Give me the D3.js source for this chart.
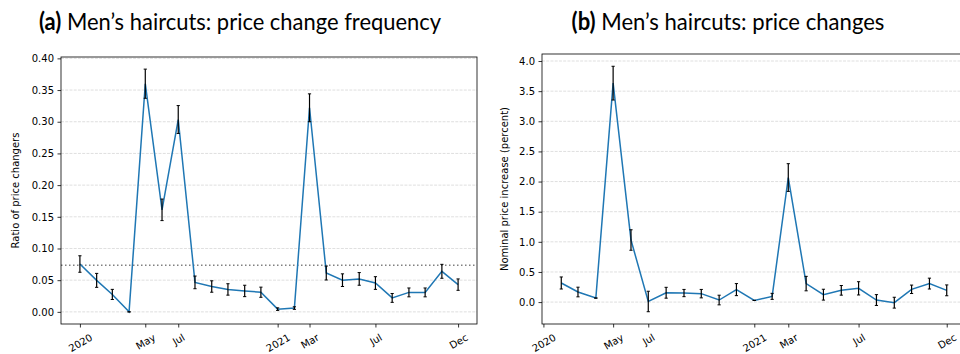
<!DOCTYPE html>
<html>
<head>
  <meta charset="utf-8">
  <title>Men's haircuts</title>
  <script src="https://d3js.org/d3.v7.min.js"></script>
  <style>
    body { margin: 0; background: #fff; }
    text { font-family: "DejaVu Sans", sans-serif; fill: #000; }
    .title { font-family: Lato, "Open Sans", sans-serif; font-size: 24px; }
  </style>
</head>
<body>
<svg class="chart" width="960" height="354"></svg>

<script>
// monthly data, first of each month
var freqMonths = ["2020-01","2020-02","2020-03","2020-04","2020-05","2020-06","2020-07","2020-08","2020-09","2020-10","2020-11","2020-12",
                  "2021-01","2021-02","2021-03","2021-04","2021-05","2021-06","2021-07","2021-08","2021-09","2021-10","2021-11","2021-12"];
var freqValues = [0.0755,0.0497,0.0275,0.0,0.360,0.161,0.3035,0.0465,0.040,0.0354,0.033,0.031,
                  0.0043,0.006,0.322,0.0613,0.050,0.052,0.0455,0.022,0.0307,0.0307,0.064,0.043];
var freqErrors = [0.013,0.011,0.008,0.0,0.023,0.017,0.022,0.010,0.009,0.009,0.009,0.008,
                  0.002,0.002,0.022,0.011,0.010,0.010,0.010,0.007,0.007,0.007,0.011,0.009];
var freqMean = 0.0735;

var changeMonths = ["2020-02","2020-03","2020-04","2020-05","2020-06","2020-07","2020-08","2020-09","2020-10","2020-11","2020-12",
                    "2021-01","2021-02","2021-03","2021-04","2021-05","2021-06","2021-07","2021-08","2021-09","2021-10","2021-11","2021-12"];
var changeValues = [0.317,0.167,0.067,3.633,1.03,0.01,0.155,0.15,0.14,0.034,0.207,
                    0.028,0.095,2.067,0.307,0.123,0.195,0.228,0.034,-0.01,0.212,0.307,0.195];
var changeErrors = [0.10,0.08,0.0,0.28,0.17,0.17,0.09,0.06,0.07,0.08,0.10,
                    0.0,0.05,0.23,0.12,0.09,0.08,0.11,0.09,0.09,0.07,0.09,0.09];

var tickDates = ["2020-01","2020-05","2020-07","2021-01","2021-03","2021-07","2021-12"];
var tickLabels = ["2020","May","Jul","2021","Mar","Jul","Dec"];
var freqTicks = [0,0.05,0.10,0.15,0.20,0.25,0.30,0.35,0.40];
var changeTicks = [0,0.5,1.0,1.5,2.0,2.5,3.0,3.5,4.0];

var parseMonth = d3.timeParse("%Y-%m");
var svg = d3.select(".chart");

function panel(opt) {
  var dates = opt.months.map(parseMonth);
  var t0 = dates[0].getTime(), t1 = dates[dates.length-1].getTime();
  var tpad = (t1 - t0) * 0.05;
  var x = d3.scaleTime().domain([new Date(t0 - tpad), new Date(t1 + tpad)]).range([opt.left, opt.right]);

  var lo = d3.min(opt.values, (d,i) => d - opt.errors[i]);
  var hi = d3.max(opt.values, (d,i) => d + opt.errors[i]);
  var ypad = (hi - lo) * 0.05;
  var y = d3.scaleLinear().domain([lo - ypad, hi + ypad]).range([opt.bottom, opt.top]);

  var g = svg.append("g");

  // clip for plot area
  var clipId = "clip" + opt.name;
  svg.append("clipPath").attr("id", clipId).append("rect")
    .attr("x", opt.left).attr("y", opt.top).attr("width", opt.right - opt.left).attr("height", opt.bottom - opt.top);

  // grid
  g.selectAll("line.grid").data(opt.ticks).enter().append("line")
    .attr("class", "grid")
    .attr("x1", opt.left).attr("x2", opt.right)
    .attr("y1", d => y(d)).attr("y2", d => y(d))
    .style("stroke", "#b0b0b0").style("stroke-opacity", 0.5)
    .style("stroke-width", 0.8).style("stroke-dasharray", "2.96,1.28");

  if (opt.mean != null) {
    g.append("line")
      .attr("x1", opt.left).attr("x2", opt.right)
      .attr("y1", y(opt.mean)).attr("y2", y(opt.mean))
      .style("stroke", "#808080").style("stroke-width", 1.5)
      .style("stroke-dasharray", "1.5,2.5");
  }

  var plot = g.append("g").attr("clip-path", "url(#" + clipId + ")");

  var line = d3.line().x((d,i) => x(dates[i])).y(d => y(d));
  plot.append("path").datum(opt.values)
    .attr("d", line)
    .style("fill", "none").style("stroke", "#1f77b4").style("stroke-width", 1.5);

  // error bars
  var eb = plot.selectAll("g.err").data(opt.values).enter().append("g").attr("class", "err");
  eb.append("line")
    .attr("x1", (d,i) => x(dates[i])).attr("x2", (d,i) => x(dates[i]))
    .attr("y1", (d,i) => y(d - opt.errors[i])).attr("y2", (d,i) => y(d + opt.errors[i]))
    .style("stroke", "#000").style("stroke-width", 1.2);
  [-1, 1].forEach(function(s) {
    eb.append("line")
      .attr("x1", (d,i) => x(dates[i]) - 1.6).attr("x2", (d,i) => x(dates[i]) + 1.6)
      .attr("y1", (d,i) => y(d + s*opt.errors[i])).attr("y2", (d,i) => y(d + s*opt.errors[i]))
      .style("stroke", "#000").style("stroke-width", 1);
  });

  // frame
  g.append("rect")
    .attr("x", opt.left).attr("y", opt.top)
    .attr("width", opt.right - opt.left).attr("height", opt.bottom - opt.top)
    .style("fill", "none").style("stroke", "#000").style("stroke-width", 0.8);

  // y axis
  var yAxis = g.append("g")
    .attr("transform", "translate(" + opt.left + ",0)")
    .call(d3.axisLeft(y).tickValues(opt.ticks).tickFormat(opt.fmt).tickSize(3.5).tickPadding(3.5));
  yAxis.select(".domain").remove();
  yAxis.selectAll("text").style("font-size", "10px").style("font-family", "DejaVu Sans");
  yAxis.selectAll("line").style("stroke-width", 0.8);

  // x axis
  var xAxis = g.append("g")
    .attr("transform", "translate(0," + opt.bottom + ")")
    .call(d3.axisBottom(x).tickValues(tickDates.map(parseMonth)).tickFormat((d,i) => tickLabels[i]).tickSize(3.5));
  xAxis.select(".domain").remove();
  xAxis.selectAll("line").style("stroke-width", 0.8);
  xAxis.selectAll("text")
    .style("font-size", "10px").style("font-family", "DejaVu Sans")
    .attr("text-anchor", "middle").attr("dy", null)
    .attr("dominant-baseline", "central")
    .each(function() {
      var w = this.getComputedTextLength();
      var h = w * 0.5 + 11.6 * 0.866;
      var cy = 3.5 + 4 + h / 2;
      d3.select(this).attr("y", cy).attr("transform", "rotate(-30,0," + cy + ")");
    });

  // y label
  svg.append("text")
    .attr("transform", "translate(" + opt.ylabelX + "," + ((opt.top + opt.bottom) / 2) + ") rotate(-90)")
    .attr("text-anchor", "middle")
    .style("font-size", "10px")
    .text(opt.ylabel);

  // title, squeezed horizontally to look like a condensed face
  var title = svg.append("text").attr("class", "title")
    .attr("x", opt.titleX).attr("y", 30).attr("text-anchor", "middle");
  title.append("tspan").style("font-weight", "bold").text(opt.tag);
  title.append("tspan").text(" " + opt.title);
  var bw = title.node().getBBox().width;
  var s = opt.titleWidth / bw;
  title.attr("transform", "translate(" + opt.titleX + ",0) scale(" + s + ",1) translate(" + (-opt.titleX) + ",0)");
}

panel({
  name: "a", months: freqMonths, values: freqValues, errors: freqErrors, mean: freqMean,
  ticks: freqTicks, fmt: d3.format(".2f"),
  left: 61, right: 477, top: 57, bottom: 324,
  ylabel: "Ratio of price changers", ylabelX: 19,
  tag: "(a)", title: "Men\u2019s haircuts: price change frequency", titleX: 240, titleWidth: 403
});

panel({
  name: "b", months: changeMonths, values: changeValues, errors: changeErrors, mean: null,
  ticks: changeTicks, fmt: d3.format(".1f"),
  left: 542, right: 966, top: 54, bottom: 324,
  ylabel: "Nominal price increase (percent)", ylabelX: 508,
  tag: "(b)", title: "Men\u2019s haircuts: price changes", titleX: 728, titleWidth: 313
});
</script>
</body>
</html>
